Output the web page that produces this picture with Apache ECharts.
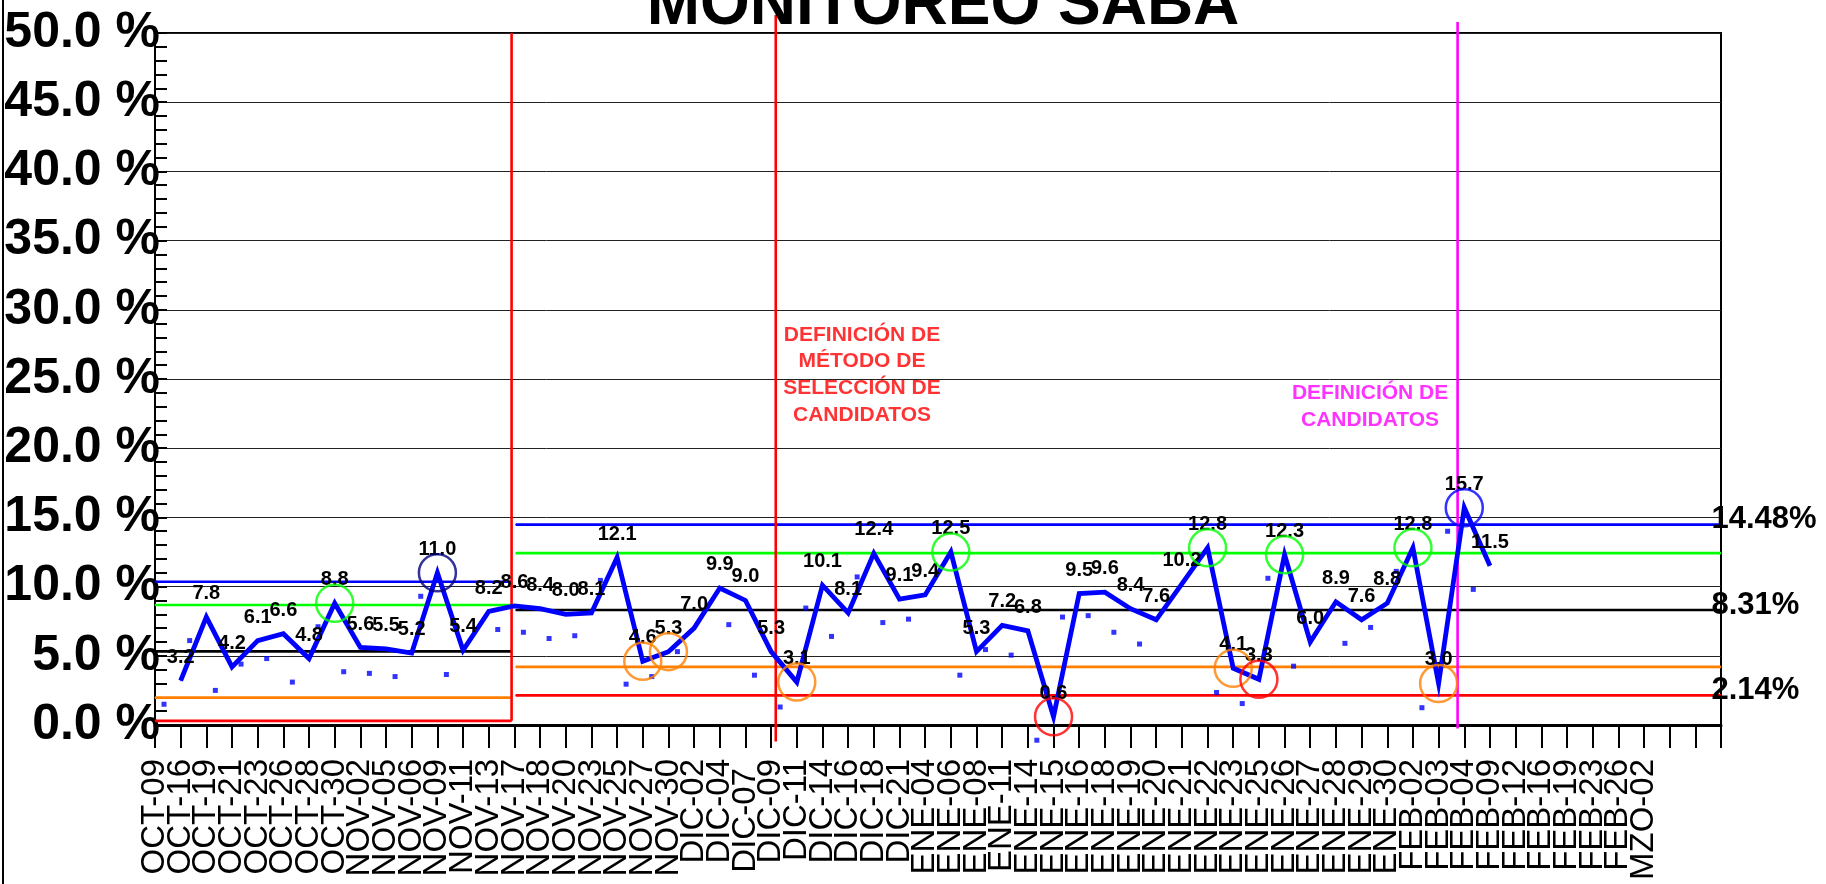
<!DOCTYPE html>
<html>
<head>
<meta charset="utf-8">
<title>Monitoreo SABA</title>
<script src="https://cdn.jsdelivr.net/npm/echarts@6/dist/echarts.min.js"></script>
<style>
  html, body { margin: 0; padding: 0; background: #fff; }
  #chart { width: 1826px; height: 884px; }
</style>
</head>
<body>
<div id="chart"></div>
<script>
const categories = [
  'OCT-09', 'OCT-16', 'OCT-19', 'OCT-21', 'OCT-23', 'OCT-26', 'OCT-28', 'OCT-30',
  'NOV-02', 'NOV-05', 'NOV-06', 'NOV-09', 'NOV-11', 'NOV-13', 'NOV-17', 'NOV-18',
  'NOV-20', 'NOV-23', 'NOV-25', 'NOV-27', 'NOV-30', 'DIC-02', 'DIC-04', 'DIC-07 ',
  'DIC-09', 'DIC-11', 'DIC-14', 'DIC-16', 'DIC-18', 'DIC-21', 'ENE-04', 'ENE-06',
  'ENE-08', 'ENE-11', 'ENE-14', 'ENE-15', 'ENE-16', 'ENE-18', 'ENE-19', 'ENE-20',
  'ENE-21', 'ENE-22', 'ENE-23', 'ENE-25', 'ENE-26', 'ENE-27', 'ENE-28', 'ENE-29',
  'ENE-30', 'FEB-02', 'FEB-03', 'FEB-04', 'FEB-09', 'FEB-12', 'FEB-16', 'FEB-19',
  'FEB-23', 'FEB-26', 'MZO-02', '', ' ', '  '
]

// % por fecha (linea azul)
const monitoreo = [
  null, 3.2, 7.8, 4.2, 6.1, 6.6, 4.8, 8.8, 5.6, 5.5, 5.2, 11.0, 5.4, 8.2, 8.6, 8.4,
  8.0, 8.1, 12.1, 4.6, 5.3, 7.0, 9.9, 9.0, 5.3, 3.1, 10.1, 8.1, 12.4, 9.1, 9.4, 12.5,
  5.3, 7.2, 6.8, 0.6, 9.5, 9.6, 8.4, 7.6, 10.2, 12.8, 4.1, 3.3, 12.3, 6.0, 8.9, 7.6,
  8.8, 12.8, 3.0, 15.7, 11.5
]

// puntos azules sueltos
const puntos = [
  1.5, 6.1, 2.5, 4.4, 4.8, 3.1, 7.1, 3.85, 3.73, 3.5, 9.3, 3.65, null, 6.9, 6.7, 6.25,
  6.45, 10.45, 2.95, 3.5, 5.3, null, 7.25, 3.6, 1.3, 8.45, 6.4, 10.7, 7.4, 7.65, null, 3.6,
  5.45, 5.05, -1.1, 7.8, 7.9, 6.7, 5.85, null, null, 2.35, 1.55, 10.6, 4.25, null, 5.9, 7.05,
  11.1, 1.25, 14.0, 9.8
]

const circledIdx = [7, 11, 19, 20, 25, 31, 35, 41, 42, 43, 44, 49, 50, 51]
const circledColor = [
  '#00ff00', '#000080', '#ff8000', '#ff8000', '#ff8000', '#00ff00', '#ff0000',
  '#00ff00', '#ff8000', '#ff0000', '#00ff00', '#00ff00', '#ff8000', '#0000ff'
]

// limites por tramo (en posiciones de categoria)
const segStart = [0, 14.05]
const segEnd = [13.89, 61]
const ucl = [10.35, 14.48]
const plus2 = [8.67, 12.42]
const center = [5.32, 8.31]
const minus2 = [1.98, 4.2]
const lcl = [0.3, 2.14]

const yTicks = [0, 50, 5]

// lineas verticales de eventos
const eventX = [13.89, 24.18, 50.74]
const eventTop = [50, 51.3, 50.8]
const eventBottom = [0.3, -1.2, -0.25]
const eventColor = ['#ff0000', '#ff0000', '#ff00ff']

const notes = [
  { x: 27.54, y: 25.3, color: '#ff0000', text: 'DEFINICIÓN DE\nMÉTODO DE\nSELECCIÓN DE\nCANDIDATOS' },
  { x: 47.33, y: 23.0, color: '#ff00ff', text: 'DEFINICIÓN DE\nCANDIDATOS' }
]

const FONT = '"Liberation Sans", Arial, sans-serif'

const limitSeries = (vals, color, withLabel) => {
  const data = []
  vals.forEach((v, i) => {
    if (i > 0) data.push([segStart[i] - 0.05, '-'])
    data.push([segStart[i], v])
    const last = { value: [segEnd[i], v] }
    if (withLabel && i === vals.length - 1) {
      last.label = {
        show: true,
        position: 'right',
        distance: -10,
        offset: [0, -5],
        formatter: v.toFixed(2) + '%',
        fontFamily: FONT,
        fontSize: 31,
        fontWeight: 'bold',
        color: '#000'
      }
    }
    data.push(last)
  })
  return {
    type: 'line',
    xAxisIndex: 1,
    data,
    symbol: 'circle',
    symbolSize: 1,
    showSymbol: true,
    clip: false,
    connectNulls: false,
    itemStyle: { color },
    lineStyle: { color, width: 2.6 },
    z: 2,
    silent: true
  }
}

const chart = echarts.init(document.getElementById('chart'))

const option = {
  animation: false,
  backgroundColor: '#fff',
  title: {
    text: 'MONITOREO SABA',
    left: 938,
    top: -31,
    textAlign: 'center',
    textStyle: { fontFamily: FONT, fontSize: 64, fontWeight: 'bold', color: '#000' }
  },
  graphic: [
    { type: 'line', shape: { x1: 3, y1: 0, x2: 3, y2: 884 }, style: { stroke: '#000', lineWidth: 2 } }
  ],
  grid: {
    left: 155, right: 105, top: 33, bottom: 159,
    show: true, borderColor: '#000', borderWidth: 2,
    containLabel: false, outerBoundsMode: 'none'
  },
  xAxis: [
    {
      type: 'category',
      data: categories,
      boundaryGap: false,
      axisLine: { lineStyle: { color: '#000', width: 3 } },
      axisTick: { show: true, interval: 0, length: 23, lineStyle: { color: '#000', width: 2 } },
      axisLabel: {
        interval: 0,
        rotate: 90,
        margin: 34,
        padding: [12, 0, 0, 0],
        fontFamily: FONT,
        fontSize: 33,
        color: '#000'
      },
      splitLine: { show: false }
    },
    { type: 'value', min: 0, max: 61, show: false }
  ],
  yAxis: {
    type: 'value',
    min: yTicks[0],
    max: yTicks[1],
    interval: yTicks[2],
    axisLine: { show: true, lineStyle: { color: '#000', width: 2 } },
    axisTick: { show: true, inside: true, length: 12, lineStyle: { color: '#000', width: 2 } },
    minorTick: { show: true, splitNumber: 5, length: 12, lineStyle: { color: '#000', width: 2 } },
    splitLine: { show: true, lineStyle: { color: '#222', width: 1 } },
    axisLabel: {
      margin: -5,
      formatter: (v) => v.toFixed(1) + ' %',
      fontFamily: FONT,
      fontSize: 50,
      fontWeight: 'bold',
      color: '#000'
    }
  },
  series: [
    limitSeries(ucl, '#0000ff', true),
    limitSeries(plus2, '#00ff00', false),
    limitSeries(center, '#000000', true),
    limitSeries(minus2, '#ff8000', false),
    limitSeries(lcl, '#ff0000', true),
    ...eventX.map((x, i) => ({
      type: 'line',
      xAxisIndex: 1,
      data: [[x, eventTop[i]], [x, eventBottom[i]]],
      symbol: 'none',
      clip: false,
      lineStyle: { color: eventColor[i], width: 2.6 },
      z: 3,
      silent: true
    })),
    {
      type: 'scatter',
      xAxisIndex: 1,
      data: notes.map((n) => ({
        value: [n.x, n.y],
        label: { color: n.color, formatter: n.text }
      })),
      symbolSize: 1,
      itemStyle: { color: 'rgba(0,0,0,0)' },
      label: {
        show: true,
        position: 'inside',
        align: 'center',
        fontFamily: FONT,
        fontSize: 21,
        fontWeight: 'bold',
        lineHeight: 26.7
      },
      z: 3,
      silent: true
    },
    {
      type: 'scatter',
      xAxisIndex: 0,
      data: puntos.map((v, i) => (v === null ? null : [i, v])).filter((d) => d),
      symbol: 'rect',
      symbolSize: 5,
      symbolOffset: [9, 0],
      clip: false,
      itemStyle: { color: '#0000ff' },
      z: 4
    },
    {
      type: 'line',
      xAxisIndex: 0,
      data: monitoreo,
      symbol: 'circle',
      symbolSize: 1,
      showSymbol: true,
      showAllSymbol: true,
      itemStyle: { color: '#0000ff' },
      lineStyle: { color: '#0000ff', width: 4.8, join: 'miter', miterLimit: 10 },
      label: {
        show: true,
        position: 'top',
        distance: 13,
        fontFamily: FONT,
        fontSize: 20,
        fontWeight: 'bold',
        color: '#000',
        formatter: (p) => Number(p.value).toFixed(1)
      },
      z: 5
    },
    {
      type: 'scatter',
      xAxisIndex: 0,
      data: circledIdx.map((idx, i) => ({
        value: [idx, monitoreo[idx]],
        itemStyle: { borderColor: circledColor[i] }
      })),
      symbol: 'circle',
      symbolSize: 37,
      itemStyle: { color: 'rgba(0,0,0,0)', borderWidth: 2.5 },
      z: 6,
      silent: true
    }
  ]
}

chart.setOption(option)
</script>
</body>
</html>
